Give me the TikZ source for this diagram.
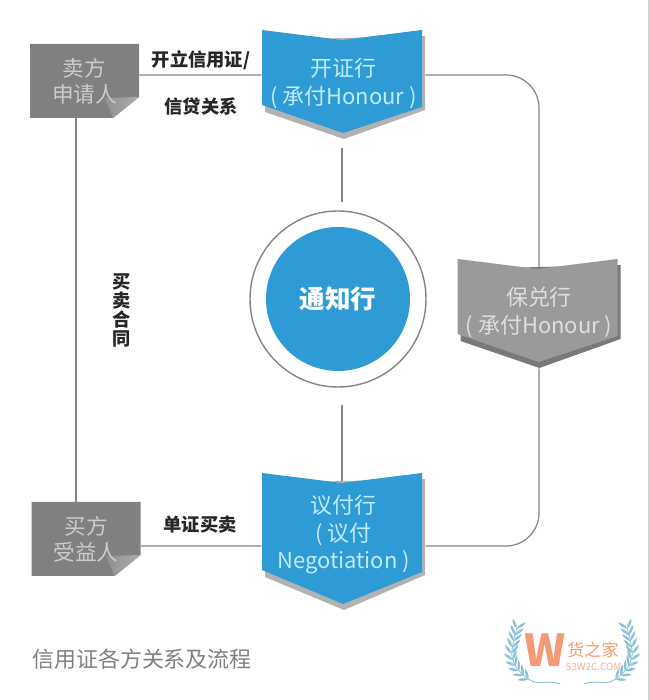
\documentclass[tikz,border=0pt]{standalone}
\usepackage{fontspec}
\setmainfont{Noto Sans CJK SC}
\usepackage{xcolor}
\usetikzlibrary{calc,backgrounds}
\usetikzlibrary{decorations.markings}
\definecolor{bankblue}{HTML}{2F9BD5}
\definecolor{bankgray}{HTML}{9A9A9A}
\definecolor{boxgray}{HTML}{808080}
\definecolor{linegray}{HTML}{858585}
\definecolor{wgorange}{HTML}{F59A76}
\definecolor{wgblue}{HTML}{8CC1DA}
\newcommand{\lift}[1]{\rule[-#1]{0pt}{0pt}}

\begin{document}
\begin{tikzpicture}[
  bank/.style n args={4}{minimum width=3.26cm, minimum height=#3*2cm, inner sep=0pt, align=center,
    font=\fontsize{12.5pt}{16pt}\selectfont,
    path picture={
      \fill [#2] (path picture bounding box.center) +(-1.57,#3-0.2) -- +(1.63,#3-0.12) -- +(1.63,-#3+#4-0.06) -- +(0.01,-#3) -- +(-1.57,-#3+#4-0.1) -- cycle;
      \fill [#1] (path picture bounding box.center) +(-1.63,#3) -- +(-0.03,#3-0.2) -- +(1.57,#3) -- +(1.57,-#3+#4) -- +(-0.01,-#3+0.12) -- +(-1.63,-#3+#4+0.04) -- cycle;}},
  party/.style={minimum width=2.18cm, minimum height=1.48cm, inner sep=0pt, align=center,
    text=gray!40, font=\fontsize{12.3pt}{15pt}\selectfont,
    path picture={
      \fill [boxgray] (path picture bounding box.center) +(-1.09,0.74) -- +(1.09,0.74) -- +(1.09,-0.32) -- +(0.57,-0.74) -- +(-1.09,-0.74) -- cycle;
      \shade [left color=boxgray, right color=gray!65] (path picture bounding box.center) +(1.09,-0.32) -- +(0.57,-0.74) -- +(0.4,-0.34) -- cycle;}},
  notice/.style={circle, draw=linegray, thick, minimum size=3.52cm, inner sep=0pt, text=white,
    font=\fontsize{14.5pt}{16pt}\selectfont\bfseries,
    path picture={\fill [bankblue] (path picture bounding box.center) circle (1.44cm);}},
  rel/.style={font=\fontsize{10.4pt}{10.8pt}\selectfont\bfseries, text=black!85, align=center, inner sep=0pt},
  link/.style={draw=linegray, line width=0.7pt},
  laurel/.style={wgblue, line width=0.5pt, postaction={decorate},
    decoration={markings, mark=between positions 0.36 and 1 step 0.07 with {
      \foreach \s in {1,-1} {
        \fill [wgblue, rotate=\s*38] (0,0) .. controls (0.07,0.035) and (0.15,0.035) .. (0.22,0)
          .. controls (0.15,-0.035) and (0.07,-0.035) .. (0,0);
      }}}}]
  \useasboundingbox (0,0) rectangle (13,14);
  %% Parties
  \node [party] (seller) at (1.69,12.38) {卖方\\申请人};
  \node [party] (buyer) at (1.72,3.22) {买方\\受益人};
  %% Banks
  \node [bank={bankblue}{gray!60}{1.09}{0.64}, text=cyan!25] (issue) at (6.87,12.31)
    {开证行\\(\ 承付Honour\ )\lift{0.14cm}};
  \node [bank={bankgray}{gray!105}{1.09}{0.64}, text=gray!25] (confirm) at (10.78,7.73)
    {保兑行\\(\ 承付Honour\ )\lift{0.14cm}};
  \node [bank={bankblue}{gray!60}{1.37}{0.76}, text=cyan!25] (pay) at (6.87,3.17)
    {议付行\\(\ 议付\\[-0.8pt]Negotiation\ )\lift{0.38cm}};
  \node [notice] (notify) at (6.76,8.02) {通知行};
  %% Labels
  \node [rel] (open_up) at (4.02,12.8) {开立信用证/};
  \node [rel] (open_down) at (4.02,11.88) {信贷关系};
  \node [rel] (docs) at (4,3.5) {单证买卖};
  \node [rel] (contract) at (2.44,7.8) {买\\卖\\合\\同};
  \node [font=\fontsize{12.5pt}{14pt}\selectfont, text=gray] (title) at (2.84,0.82) {信用证各方关系及流程};
  %% Arrows
  \begin{scope}[on background layer]
    \path [link] ([yshift=0.12cm]seller.east) to ([yshift=0.19cm]issue.west);
    \path [link] ([yshift=-0.14cm]buyer.east) to ([yshift=-0.09cm]pay.west);
    \path [link] ([xshift=-0.17cm]seller.south) to ([xshift=-0.2cm]buyer.north);
    \path [link, rounded corners=0.66cm] ([yshift=0.19cm]issue.east) -| (confirm.center);
    \path [link, rounded corners=0.66cm] (confirm.south) |- ([yshift=-0.09cm]pay.east);
    \path [link, shorten <=0.18cm, shorten >=0.16cm] ([xshift=-0.03cm]issue.south) to ([xshift=-0.03cm]issue.south |- notify.north);
    \path [link, shorten <=0.34cm] ([xshift=-0.03cm]pay.center |- notify.south) to ([xshift=-0.03cm]pay.center);
  \end{scope}
  %% Logo
  \node [font=\fontsize{25pt}{25pt}\selectfont\bfseries, text=wgorange, inner sep=0pt] (logo_w) at (10.9,1.0) {W};
  \node [font=\fontsize{9.7pt}{10pt}\selectfont, text=wgorange, inner sep=0pt] (logo_name) at (11.86,1.0) {货之家};
  \node [font=\fontsize{5.6pt}{6pt}\selectfont, text=wgorange!80, inner sep=0pt] (logo_site) at (11.87,0.66) {S3W2C.COM};
  \draw [laurel] (11.2,0.32) .. controls (10.95,0.42) and (10.8,0.28) .. (10.6,0.4)
    .. controls (10.35,0.55) and (10.2,0.8) .. (10.24,1) .. controls (10.26,1.15) and (10.3,1.3) .. (10.34,1.44);
  \draw [laurel] (11.68,0.32) .. controls (11.93,0.42) and (12.08,0.28) .. (12.28,0.4)
    .. controls (12.53,0.55) and (12.68,0.8) .. (12.64,1) .. controls (12.62,1.15) and (12.58,1.3) .. (12.54,1.44);
  %% Edge of the page
  \fill [gray!35] (12.96,0) rectangle (13,14);
\end{tikzpicture}
\end{document}
